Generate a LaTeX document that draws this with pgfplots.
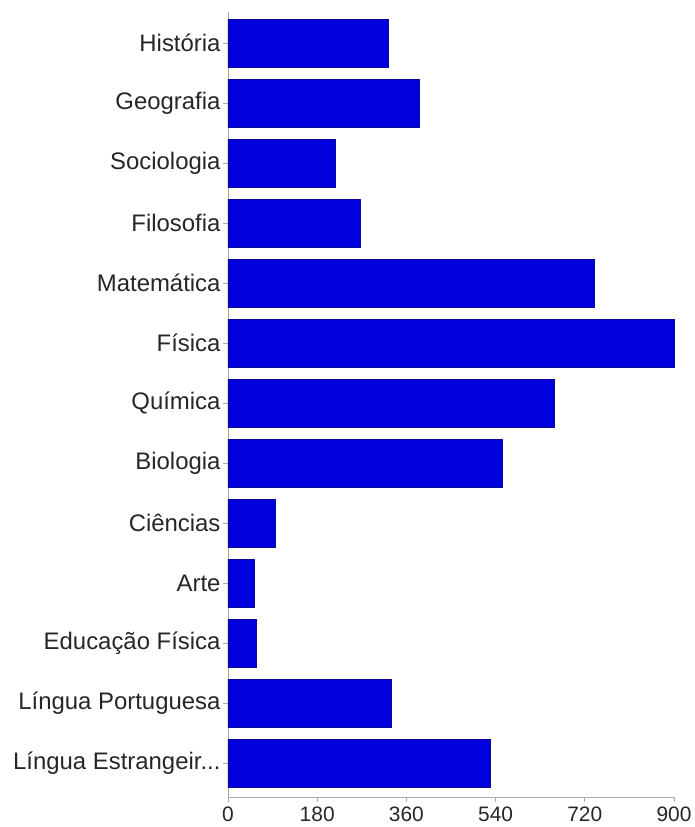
\documentclass[border=0pt]{standalone}
\usepackage{fontspec}
\setmainfont{Liberation Sans}
\usepackage{pgfplots}
\pgfplotsset{compat=1.18}
\definecolor{barfill}{RGB}{0,0,222}
\definecolor{baredge}{RGB}{10,10,150}
\definecolor{axisgray}{RGB}{170,170,180}
\begin{document}
\begin{tikzpicture}
  \useasboundingbox (-228bp,-30bp) rectangle (467bp,797bp);
  \begin{axis}[
      scale only axis,
      width=446bp, height=785bp,
      xbar, bar width=0.8,
      xmin=0, xmax=900,
      ymin=-0.52, ymax=12.56,
      y dir=reverse,
      axis lines*=left,
      axis line style={axisgray, line width=0.8bp},
      tick style={axisgray, line width=0.8bp},
      tick align=outside,
      major tick length=5bp,
      xtick={0,180,360,540,720,900},
      ytick={0,1,2,3,4,5,6,7,8,9,10,11,12},
      yticklabels={Hist\'oria, Geografia, Sociologia, Filosofia, Matem\'atica,
        F\'isica, Qu\'imica, Biologia, Ci\^encias, Arte, Educa\c{c}\~ao F\'isica,
        L\'ingua Portuguesa, {L\'ingua Estrangeir{.}{.}{.}}},
      /pgf/number format/assume math mode=true,
      x tick label style={font=\fontsize{21}{24}\selectfont, text=black!85, yshift=-1bp},
      y tick label style={font=\fontsize{24}{28}\selectfont, text=black!85, xshift=1bp},
      clip=false,
    ]
    \addplot[fill=barfill, draw=baredge, line width=0.7bp] coordinates {
      (323,0) (386,1) (217,2) (267,3) (739,4) (900,5) (659,6)
      (554,7) (96,8) (53,9) (58,10) (330,11) (530,12)
    };
  \end{axis}
\end{tikzpicture}
\end{document}
